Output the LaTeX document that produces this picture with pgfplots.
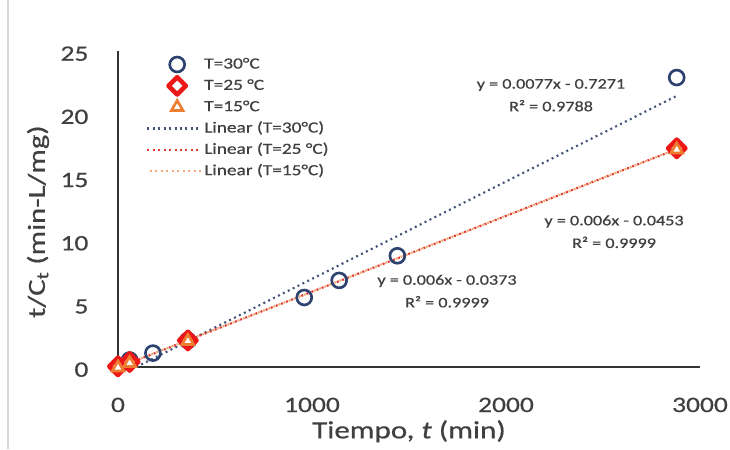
\documentclass[border=0pt]{standalone}
\usepackage{fontspec}
\setmainfont{Carlito}[FakeStretch=1.25, UprightFeatures={FakeBold=0.6}, ItalicFeatures={FakeBold=0.6}]
\usepackage{pgfplots}
\pgfplotsset{compat=1.18}
\definecolor{cblue}{RGB}{46,66,112}
\definecolor{cred}{RGB}{236,24,24}
\definecolor{corange}{RGB}{237,125,49}
\definecolor{tblue}{RGB}{68,84,120}
\definecolor{tred}{RGB}{226,58,48}
\definecolor{torange}{RGB}{244,170,120}
\definecolor{txt}{RGB}{64,64,64}
\pgfplotsset{
  marklegend/.style={legend image code/.code={\draw[##1] plot coordinates {(22.5pt,0pt)};}},
  linelegend/.style={legend image code/.code={\draw[##1] (0pt,0pt) -- (41pt,0pt);}},
}
\begin{document}
\begin{tikzpicture}
\path[use as bounding box] (-88.5pt,-61.5pt) rectangle (459pt,275.25pt);
\draw[black!15, line width=0.8pt] (-82.5pt,-61.5pt) -- (-82.5pt,275.25pt);
\begin{axis}[
  at={(0pt,0pt)}, anchor=south west,
  scale only axis, width=436.5pt, height=237pt,
  xmin=0, xmax=3000, ymin=0, ymax=25,
  axis lines=left,
  axis line style={-, draw=black!80, line width=0.9pt},
  xtick={0,1000,2000,3000}, ytick={0,5,10,15,20,25},
  major tick length=0pt, tick style={draw=none},
  scaled x ticks=false,
  /pgf/number format/assume math mode=true,
  /pgf/number format/set thousands separator={},
  xticklabel style={anchor=base, inner sep=0pt, yshift=-33.75pt, font=\fontsize{16.5}{19}\selectfont, text=txt},
  yticklabel style={anchor=east, inner sep=0pt, xshift=-22pt, yshift=-2pt, font=\fontsize{16.5}{19}\selectfont, text=txt},
  xlabel={Tiempo, \textit{t} (min)},
  xlabel style={at={(axis description cs:0.5,0)}, anchor=base, inner sep=0pt, yshift=-53.5pt, font=\fontsize{18.6}{21}\selectfont, text=txt},
  ylabel={t/C\textsubscript{t} (min-L/mg)},
  ylabel style={at={(axis description cs:-0.1375,0.46)}, anchor=center, rotate=0, inner sep=0pt, font=\fontsize{18.4}{21}\selectfont, text=txt},
  clip=false,
  legend cell align=left,
  legend style={at={(axis description cs:0.041,0.994)}, anchor=north west, draw=none, fill=none,
    font=\fontsize{11.6}{13}\selectfont, text=txt, row sep=3pt,
    nodes={inner sep=1pt, text height=8.5pt, text depth=2.5pt},
    /tikz/every even column/.append style={column sep=0pt}},
]
\addplot[only marks, mark=o, mark size=5.6pt, draw=cblue, line width=2pt, marklegend]
  coordinates {(60,0.55) (180,1.1) (360,2.1) (960,5.5) (1140,6.85) (1440,8.8) (2880,22.9)};
\addlegendentry{T=30°C}
\addplot[only marks, mark=square*, mark size=4.6pt, mark options={rotate=45, draw=cred, fill=white, line width=3.4pt, line join=round}, marklegend]
  coordinates {(0,0.05) (60,0.4) (360,2.1) (2880,17.3)};
\addlegendentry{T=25 °C}
\addplot[only marks, mark=triangle*, mark size=5pt, mark options={draw=corange, fill=white, line width=2pt}, marklegend]
  coordinates {(0,-0.05) (60,0.3) (360,2.05) (2880,17.2)};
\addlegendentry{T=15°C}
\addplot[tblue, line width=1.6pt, dash pattern=on 1.5pt off 2.6pt, linelegend]
  coordinates {(94.4,0) (2880,21.4489)};
\addlegendentry{Linear (T=30°C)}
\addplot[tred, line width=1.6pt, dash pattern=on 1.5pt off 2.6pt, linelegend]
  coordinates {(0,-0.0453) (2880,17.2347)};
\addlegendentry{Linear (T=25 °C)}
\addplot[torange, line width=1.6pt, dash pattern=on 1.5pt off 2.6pt, dash phase=2pt, linelegend]
  coordinates {(0,-0.0373) (2880,17.2427)};
\addlegendentry{Linear (T=15°C)}
\node[align=center, font=\fontsize{10.9}{17}\selectfont, text=txt] at (axis cs:2232,21.5) {y = 0.0077x - 0.7271\\R² = 0.9788};
\node[align=center, font=\fontsize{10.9}{17}\selectfont, text=txt] at (axis cs:2557,10.7) {y = 0.006x - 0.0453\\R² = 0.9999};
\node[align=center, font=\fontsize{10.9}{17}\selectfont, text=txt] at (axis cs:1696,6.0) {y = 0.006x - 0.0373\\R² = 0.9999};
\end{axis}
\end{tikzpicture}
\end{document}
